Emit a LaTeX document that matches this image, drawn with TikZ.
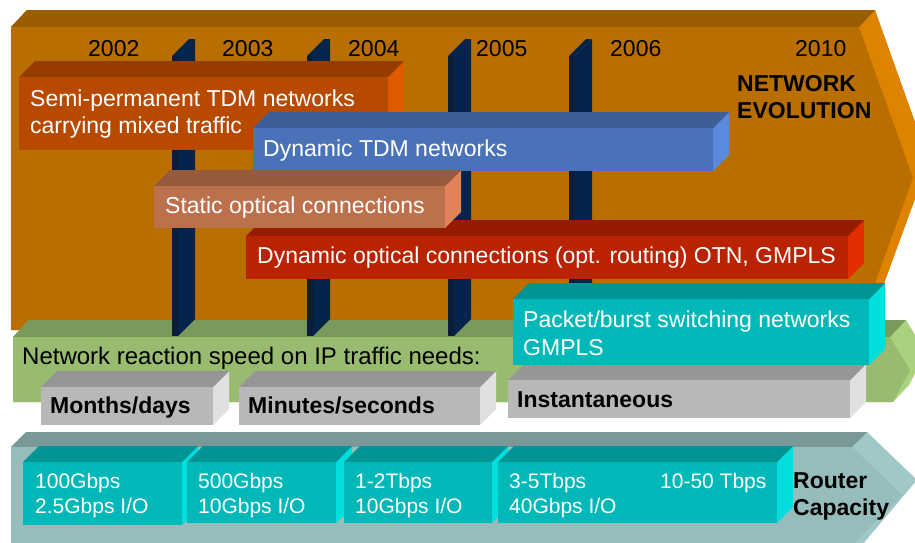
\documentclass[tikz,border=0pt]{standalone}
\usepackage{fontspec}
\setmainfont{Liberation Sans}
\definecolor{orF}{RGB}{185,111,0}
\definecolor{orT}{RGB}{154,94,0}
\definecolor{orS}{RGB}{222,131,0}
\definecolor{grF}{RGB}{152,187,112}
\definecolor{grT}{RGB}{122,154,92}
\definecolor{grS}{RGB}{170,210,126}
\definecolor{tlF}{RGB}{150,188,188}
\definecolor{tlT}{RGB}{122,152,152}
\definecolor{tlS}{RGB}{160,200,200}
\definecolor{cyF}{RGB}{0,184,184}
\definecolor{cyT}{RGB}{0,148,148}
\definecolor{cyS}{RGB}{0,222,222}
\definecolor{semiF}{RGB}{184,74,0}
\definecolor{semiT}{RGB}{150,60,0}
\definecolor{semiS}{RGB}{224,90,0}
\definecolor{tdmF}{RGB}{74,114,184}
\definecolor{tdmT}{RGB}{61,94,150}
\definecolor{tdmS}{RGB}{90,138,222}
\definecolor{statF}{RGB}{189,112,76}
\definecolor{statT}{RGB}{150,90,60}
\definecolor{statS}{RGB}{224,130,90}
\definecolor{doptF}{RGB}{185,35,0}
\definecolor{doptT}{RGB}{150,28,0}
\definecolor{doptS}{RGB}{226,45,0}
\definecolor{gyF}{RGB}{184,184,184}
\definecolor{gyT}{RGB}{150,150,150}
\definecolor{gyS}{RGB}{224,224,224}
\definecolor{nvF}{RGB}{10,30,60}
\definecolor{nvS}{RGB}{5,36,75}
\newcommand{\cube}[6]{%
  \fill[#6S] (#3,#2) -- (#3+#5,#2-#5) -- (#3+#5,#4-#5) -- (#3,#4) -- cycle;
  \fill[#6T] (#1,#2) -- (#1+#5,#2-#5) -- (#3+#5,#2-#5) -- (#3,#2) -- cycle;
  \fill[#6F] (#1,#2) rectangle (#3,#4);}
\newcommand{\navybar}[1]{%
  \fill[nvS] (#1+6,56) -- (#1+23,39) -- (#1+23,319) -- (#1+6,336) -- cycle;
  \fill[nvS] (#1,56) -- (#1+17,39) -- (#1+23,39) -- (#1+6,56) -- cycle;
  \fill[nvF] (#1,56) rectangle (#1+6,336);}
\begin{document}
\begin{tikzpicture}[x=1pt,y=-1pt,
  txt/.style={inner sep=0pt,anchor=base west,font=\fontsize{23}{27}\selectfont},
  wtxt/.style={txt,text=white},
  btxt/.style={txt,font=\fontsize{23}{27}\selectfont\bfseries},
  stxt/.style={inner sep=0pt,anchor=base west,text=white,font=\fontsize{21}{25}\selectfont}]
\useasboundingbox[fill=white] (0,0) rectangle (915,542);
% orange arrow
\fill[orS] (11,27) -- (27,10) -- (875,10) -- (929,161) -- (867,330) -- (11,330) -- cycle;
\fill[orT] (11,27) -- (27,10) -- (875,10) -- (859,27) -- cycle;
\fill[orF] (11,27) -- (859,27) -- (913,178) -- (858,330) -- (11,330) -- cycle;
% green band
\fill[grS] (13,337) -- (29,320) -- (906,320) -- (926,353) -- (909,385) -- (893,402) -- (13,402) -- cycle;
\fill[grT] (13,337) -- (29,320) -- (906,320) -- (890,337) -- cycle;
\fill[grF] (13,337) -- (890,337) -- (910,370) -- (893,402) -- (13,402) -- cycle;
% teal arrow
\fill[tlS] (11,447) -- (26,432) -- (867,432) -- (917,480) -- (862,545) -- (11,545) -- cycle;
\fill[tlT] (11,447) -- (26,432) -- (867,432) -- (852,447) -- cycle;
\fill[tlF] (11,447) -- (852,447) -- (902,495) -- (852,545) -- (11,545) -- cycle;
% years
\node[txt] (y2002) at (88,56) {2002};
\node[txt] (y2003) at (222,56) {2003};
\node[txt] (y2004) at (348,56) {2004};
\node[txt] (y2005) at (476,56) {2005};
\node[txt] (y2006) at (610,56) {2006};
\node[txt] (y2010) at (795,56) {2010};
\node[btxt] (netev1) at (737,91) {NETWORK};
\node[btxt] (netev2) at (737,118) {EVOLUTION};
% navy bars
\navybar{172}
\navybar{307}
\navybar{448}
\navybar{569}
% horizontal boxes
\cube{19}{77}{388}{150}{16}{semi}
\node[wtxt] (semi1) at (30,106) {Semi-permanent TDM networks};
\node[wtxt] (semi2) at (30,133) {carrying mixed traffic};
\cube{253}{128}{713}{171}{16}{tdm}
\node[wtxt] (tdm) at (263,156) {Dynamic TDM networks};
\cube{246}{236}{848}{279}{16}{dopt}
\node[wtxt] (dopt) at (257,263) {Dynamic optical connections (opt. routing) OTN, GMPLS};
\cube{154}{186}{445}{228}{16}{stat}
\node[wtxt] (stat) at (165,213) {Static optical connections};
% reaction speed
\node[txt,font=\fontsize{24}{28}\selectfont] (react) at (22,364) {Network reaction speed on IP traffic needs:};
\cube{41}{387}{213}{425}{16}{gy}
\node[btxt] (months) at (50,413) {Months/days};
\cube{239}{387}{480}{425}{16}{gy}
\node[btxt] (minutes) at (248,413) {Minutes/seconds};
\cube{508}{380}{850}{418}{16}{gy}
\node[btxt] (inst) at (517,407) {Instantaneous};
\cube{513}{299}{869}{365}{16}{cy}
\node[wtxt] (pack1) at (523,327) {Packet/burst switching networks};
\node[wtxt] (pack2) at (523,355) {GMPLS};
% router capacity boxes
\cube{23}{462}{182}{525}{16}{cy}
\node[stxt] (r1a) at (35,488) {100Gbps};
\node[stxt] (r1b) at (35,513) {2.5Gbps I/O};
\cube{187}{462}{336}{523}{16}{cy}
\node[stxt] (r2a) at (198,488) {500Gbps};
\node[stxt] (r2b) at (198,513) {10Gbps I/O};
\cube{344}{462}{492}{523}{16}{cy}
\node[stxt] (r3a) at (355,488) {1-2Tbps};
\node[stxt] (r3b) at (355,513) {10Gbps I/O};
\cube{498}{462}{777}{523}{16}{cy}
\node[stxt] (r4a) at (509,488) {3-5Tbps};
\node[stxt] (r4b) at (509,513) {40Gbps I/O};
\node[stxt] (r5) at (660,488) {10-50 Tbps};
\node[btxt] (rc1) at (793,488) {Router};
\node[btxt] (rc2) at (793,515) {Capacity};
\end{tikzpicture}
\end{document}
